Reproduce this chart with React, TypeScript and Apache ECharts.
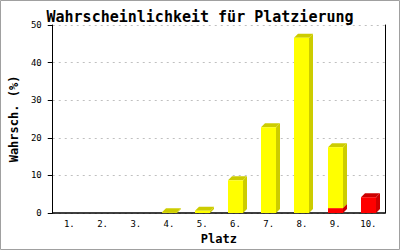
import React, { useEffect, useRef } from "react";
import * as echarts from "echarts";

const categories = ["1.", "2.", "3.", "4.", "5.", "6.", "7.", "8.", "9.", "10."];
const yellowValues = [0, 0, 0, 0.2, 0.6, 8.7, 22.8, 46.6, 16.2, 0];
const redValues = [0, 0, 0, 0, 0, 0, 0, 0, 1.3, 4.2];
const yTicks = { min: 0, max: 50, interval: 10 };

const FONT = "'DejaVu Sans Mono', 'Liberation Mono', monospace";
const DEPTH = 4;
const BAR_W = 15;

function make3D(front: string, dark: string) {
  return (params: any, api: any) => {
    const x = api.value(0);
    const lo = api.value(1);
    const hi = api.value(2);
    if (!(hi > lo)) return { type: "group", children: [] };
    const pTop = api.coord([x, hi]);
    const pBot = api.coord([x, lo]);
    const l = Math.round(pTop[0] - BAR_W / 2);
    const r = l + BAR_W;
    const t = pTop[1];
    const b = pBot[1];
    const D = DEPTH;
    return {
      type: "group",
      children: [
        {
          type: "polygon",
          shape: { points: [[r, b], [r + D, b - D], [r + D, t - D], [r, t]] },
          style: { fill: dark, stroke: null },
        },
        {
          type: "polygon",
          shape: { points: [[l, t], [l + D, t - D], [r + D, t - D], [r, t]] },
          style: { fill: dark, stroke: null },
        },
        {
          type: "rect",
          shape: { x: l, y: t, width: BAR_W, height: b - t },
          style: { fill: front, stroke: null },
        },
      ],
    };
  };
}

export default function App() {
  const ref = useRef<HTMLDivElement>(null);
  useEffect(() => {
    document.body.style.margin = "0";
    const chart = echarts.init(ref.current!, undefined, { renderer: "svg" });
    const redData = categories.map((_, i) => [i, 0, redValues[i]]);
    const yellowData = categories.map((_, i) => [i, redValues[i], redValues[i] + yellowValues[i]]);
    chart.setOption({
      animation: false,
      backgroundColor: "#ffffff",
      title: {
        text: "Wahrscheinlichkeit für Platzierung",
        left: "center",
        top: 4,
        textStyle: { fontFamily: FONT, fontSize: 15, fontWeight: "bold", color: "#000" },
      },
      graphic: [
        {
          type: "rect",
          shape: { x: 0.5, y: 0.5, width: 399, height: 249 },
          style: { fill: "none", stroke: "#a0a0a0", lineWidth: 1 },
          silent: true,
        },
      ],
      grid: { left: 43, right: 15, top: 25, bottom: 36, containLabel: false },
      xAxis: {
        type: "category",
        data: categories,
        name: "Platz",
        nameLocation: "middle",
        nameGap: 20,
        nameTextStyle: { fontFamily: FONT, fontSize: 12, fontWeight: "bold", color: "#000" },
        axisLine: { show: true, lineStyle: { color: "#000", width: 1.5 } },
        axisTick: { show: false },
        axisLabel: { fontFamily: FONT, fontSize: 9, color: "#000", margin: 6 },
        splitLine: { show: false },
      },
      yAxis: [
        {
          type: "value",
          min: yTicks.min,
          max: yTicks.max,
          interval: yTicks.interval,
          name: "Wahrsch. (%)",
          nameLocation: "middle",
          nameGap: 26,
          nameTextStyle: { fontFamily: FONT, fontSize: 12, fontWeight: "bold", color: "#000" },
          axisLine: { show: true, lineStyle: { color: "#000", width: 1 } },
          axisTick: { show: true, inside: false, length: 5, lineStyle: { color: "#000" } },
          axisLabel: { fontFamily: FONT, fontSize: 9, color: "#000", margin: 11 },
          splitLine: { show: true, lineStyle: { color: "#c0c0c0", type: [2, 4], width: 1 } },
        },
        {
          type: "value",
          position: "right",
          min: yTicks.min,
          max: yTicks.max,
          interval: yTicks.interval,
          axisLine: { show: true, lineStyle: { color: "#000", width: 1 } },
          axisTick: { show: false },
          axisLabel: { show: false },
          splitLine: { show: false },
        },
      ],
      series: [
        {
          type: "custom",
          name: "red",
          renderItem: make3D("#ff0000", "#cc0000"),
          encode: { x: 0, y: [1, 2] },
          data: redData,
          clip: false,
        },
        {
          type: "custom",
          name: "yellow",
          renderItem: make3D("#ffff00", "#cccc00"),
          encode: { x: 0, y: [1, 2] },
          data: yellowData,
          clip: false,
        },
      ],
    });
    return () => chart.dispose();
  }, []);
  return <div ref={ref} style={{ width: 400, height: 250 }} />;
}
